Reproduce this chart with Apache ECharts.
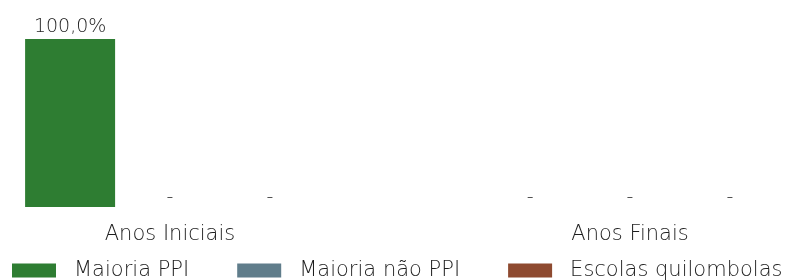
<!DOCTYPE html>
<html>
<head>
<meta charset="utf-8">
<script src="https://cdn.jsdelivr.net/npm/echarts@6/dist/echarts.min.js"></script>
<style>
  html, body { margin: 0; padding: 0; background: #fff; }
  #chart { width: 792px; height: 280px; }
</style>
</head>
<body>
<div id="chart"></div>
<script>
// dados
const categorias = ['Anos Iniciais', 'Anos Finais'];
const maioriaPPI = [100, 0];
const maioriaNaoPPI = [0, 0];
const quilombolas = [0, 0];
const nomesSeries = ['Maioria PPI', 'Maioria não PPI', 'Escolas quilombolas'];
const cores = ['#2e7d32', '#607d8b', '#8e4a30'];

const fonte = '"DejaVu Sans", sans-serif';
const corTexto = '#1e1e1e';

// rótulo no topo da barra; sem valor mostra "-"
const rotulo = {
  show: true,
  position: 'top',
  distance: 2,
  color: corTexto,
  fontFamily: fonte,
  fontWeight: 200,
  fontSize: 19,
  formatter: p => p.value ? p.value.toFixed(1).replace('.', ',') + '%' : '{d|-}',
  rich: {
    d: { fontFamily: fonte, fontWeight: 200, fontSize: 19, color: corTexto, lineHeight: 13 }
  }
};

const chart = echarts.init(document.getElementById('chart'));

chart.setOption({
  animation: false,
  color: cores,
  grid: { left: -60, width: 920, top: 39, bottom: 73, outerBoundsMode: 'none', containLabel: false },
  legend: {
    left: 12,
    top: 260,
    padding: 0,
    itemWidth: 44,
    itemHeight: 14,
    itemGap: 48,
    icon: 'rect',
    textStyle: {
      color: corTexto,
      fontFamily: fonte,
      fontWeight: 200,
      fontSize: 21,
      padding: [0, 0, 0, 13]
    },
    data: nomesSeries
  },
  xAxis: {
    type: 'category',
    data: categorias,
    axisLine: { show: false },
    axisTick: { show: false },
    axisLabel: {
      color: corTexto,
      fontFamily: fonte,
      fontWeight: 200,
      fontSize: 21,
      margin: 17
    }
  },
  yAxis: {
    type: 'value',
    min: 0,
    max: 100,
    show: false,
    splitLine: { show: false }
  },
  series: [
    { name: nomesSeries[0], type: 'bar', data: maioriaPPI, barWidth: 90, barGap: '11%', label: rotulo },
    { name: nomesSeries[1], type: 'bar', data: maioriaNaoPPI, barWidth: 90, barGap: '11%', label: rotulo },
    { name: nomesSeries[2], type: 'bar', data: quilombolas, barWidth: 90, barGap: '11%', label: rotulo }
  ]
});
</script>
</body>
</html>
